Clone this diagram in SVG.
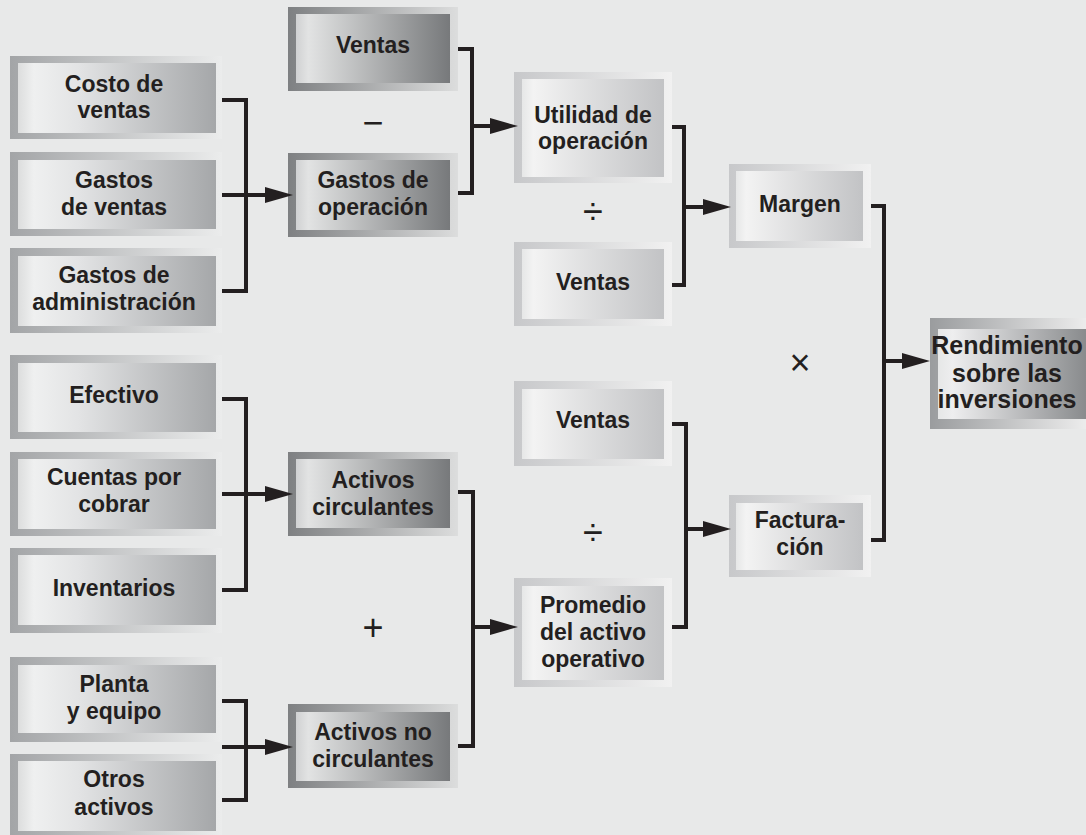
<svg xmlns="http://www.w3.org/2000/svg" width="1086" height="835" viewBox="0 0 1086 835">
<defs>
<linearGradient id="oA" x1="0" y1="0" x2="1" y2="0"><stop offset="0" stop-color="#a3a5a7"/><stop offset="1" stop-color="#ebecec"/></linearGradient>
<linearGradient id="iA" x1="0" y1="0" x2="1" y2="0"><stop offset="0" stop-color="#dcdddd"/><stop offset="0.08" stop-color="#eff0f0"/><stop offset="0.3" stop-color="#e3e4e5"/><stop offset="1" stop-color="#a5a7a9"/></linearGradient>
<linearGradient id="oB" x1="0" y1="0" x2="1" y2="0"><stop offset="0" stop-color="#c7c8ca"/><stop offset="1" stop-color="#f1f1f1"/></linearGradient>
<linearGradient id="iB" x1="0" y1="0" x2="1" y2="0"><stop offset="0" stop-color="#e6e7e7"/><stop offset="0.08" stop-color="#f3f3f3"/><stop offset="1" stop-color="#c2c3c5"/></linearGradient>
<linearGradient id="oD" x1="0" y1="0" x2="1" y2="0"><stop offset="0" stop-color="#7e8082"/><stop offset="1" stop-color="#dcdddd"/></linearGradient>
<linearGradient id="iD" x1="0" y1="0" x2="1" y2="0"><stop offset="0" stop-color="#d0d1d2"/><stop offset="0.08" stop-color="#e2e3e3"/><stop offset="1" stop-color="#77797b"/></linearGradient>
<linearGradient id="oR" x1="0" y1="0" x2="1" y2="0"><stop offset="0" stop-color="#9a9c9e"/><stop offset="1" stop-color="#ececec"/></linearGradient>
<linearGradient id="iR" x1="0" y1="0" x2="1" y2="0"><stop offset="0" stop-color="#e6e7e7"/><stop offset="0.1" stop-color="#eeeeef"/><stop offset="1" stop-color="#898b8d"/></linearGradient>
<marker id="ah" markerUnits="userSpaceOnUse" markerWidth="28" markerHeight="16" viewBox="0 0 28 16" refX="2" refY="8" orient="auto"><path d="M0,0 L28,8 L0,16 z" fill="#231f20"/></marker>
</defs>
<style>
.t{font-family:"Liberation Sans",Arial,sans-serif;font-weight:bold;font-size:23px;fill:#231f20;text-anchor:middle}
.tr{font-size:25px}
.op{font-family:"Liberation Sans",Arial,sans-serif;font-weight:normal;font-size:36px;fill:#231f20;text-anchor:middle}
.c{fill:none;stroke:#231f20;stroke-width:4;stroke-linejoin:miter;stroke-linecap:butt}
</style>
<rect width="1086" height="835" fill="#e8e9e9"/>

<g id="costo-ventas"><rect x="10" y="56" width="212" height="83" fill="url(#oA)"/><rect x="18" y="63" width="198" height="70" fill="url(#iA)"/><text class="t" x="114" y="92">Costo de</text><text class="t" x="114" y="118">ventas</text></g>
<g id="gastos-ventas"><rect x="10" y="152" width="212" height="84" fill="url(#oA)"/><rect x="18" y="160" width="198" height="69" fill="url(#iA)"/><text class="t" x="114" y="188">Gastos</text><text class="t" x="114" y="215">de ventas</text></g>
<g id="gastos-admin"><rect x="10" y="248" width="212" height="85" fill="url(#oA)"/><rect x="18" y="256" width="198" height="70" fill="url(#iA)"/><text class="t" x="114" y="283">Gastos de</text><text class="t" x="114" y="310">administración</text></g>
<g id="efectivo"><rect x="10" y="355" width="212" height="84" fill="url(#oA)"/><rect x="18" y="363" width="198" height="69" fill="url(#iA)"/><text class="t" x="114" y="403">Efectivo</text></g>
<g id="cuentas"><rect x="10" y="452" width="212" height="84" fill="url(#oA)"/><rect x="18" y="459" width="198" height="70" fill="url(#iA)"/><text class="t" x="114" y="485">Cuentas por</text><text class="t" x="114" y="512">cobrar</text></g>
<g id="inventarios"><rect x="10" y="548" width="212" height="85" fill="url(#oA)"/><rect x="18" y="555" width="198" height="70" fill="url(#iA)"/><text class="t" x="114" y="596">Inventarios</text></g>
<g id="planta"><rect x="10" y="657" width="212" height="85" fill="url(#oA)"/><rect x="18" y="665" width="198" height="68" fill="url(#iA)"/><text class="t" x="114" y="692">Planta</text><text class="t" x="114" y="719">y equipo</text></g>
<g id="otros"><rect x="10" y="754" width="212" height="84" fill="url(#oA)"/><rect x="18" y="761" width="198" height="70" fill="url(#iA)"/><text class="t" x="114" y="787">Otros</text><text class="t" x="114" y="815">activos</text></g>

<g id="ventas-1"><rect x="288" y="7" width="170" height="84" fill="url(#oD)"/><rect x="296" y="14" width="154" height="69" fill="url(#iD)"/><text class="t" x="373" y="53">Ventas</text></g>
<g id="gastos-op"><rect x="288" y="153" width="170" height="84" fill="url(#oD)"/><rect x="296" y="160" width="154" height="70" fill="url(#iD)"/><text class="t" x="373" y="188">Gastos de</text><text class="t" x="373" y="215">operación</text></g>
<g id="activos-circ"><rect x="288" y="452" width="170" height="84" fill="url(#oD)"/><rect x="296" y="459" width="154" height="69" fill="url(#iD)"/><text class="t" x="373" y="488">Activos</text><text class="t" x="373" y="515">circulantes</text></g>
<g id="activos-nocirc"><rect x="288" y="704" width="170" height="84" fill="url(#oD)"/><rect x="296" y="712" width="154" height="69" fill="url(#iD)"/><text class="t" x="373" y="740">Activos no</text><text class="t" x="373" y="767">circulantes</text></g>

<g id="utilidad"><rect x="514" y="72" width="158" height="111" fill="url(#oB)"/><rect x="522" y="79" width="142" height="98" fill="url(#iB)"/><text class="t" x="593" y="123">Utilidad de</text><text class="t" x="593" y="149">operación</text></g>
<g id="ventas-2"><rect x="514" y="242" width="158" height="84" fill="url(#oB)"/><rect x="522" y="249" width="142" height="70" fill="url(#iB)"/><text class="t" x="593" y="290">Ventas</text></g>
<g id="ventas-3"><rect x="514" y="381" width="158" height="85" fill="url(#oB)"/><rect x="522" y="389" width="142" height="70" fill="url(#iB)"/><text class="t" x="593" y="428">Ventas</text></g>
<g id="promedio"><rect x="514" y="578" width="158" height="109" fill="url(#oB)"/><rect x="522" y="586" width="142" height="94" fill="url(#iB)"/><text class="t" x="593" y="613">Promedio</text><text class="t" x="593" y="640">del activo</text><text class="t" x="593" y="667">operativo</text></g>

<g id="margen"><rect x="729" y="164" width="142" height="84" fill="url(#oB)"/><rect x="736" y="171" width="127" height="70" fill="url(#iB)"/><text class="t" x="800" y="212">Margen</text></g>
<g id="facturacion"><rect x="729" y="495" width="142" height="82" fill="url(#oB)"/><rect x="736" y="503" width="127" height="67" fill="url(#iB)"/><text class="t" x="800" y="528">Factura-</text><text class="t" x="800" y="555">ción</text></g>

<g id="rendimiento"><rect x="930" y="318" width="156" height="111" fill="url(#oR)"/><rect x="938" y="329" width="148" height="90" fill="url(#iR)"/><text class="t tr" x="1007" y="354">Rendimiento</text><text class="t tr" x="1007" y="382">sobre las</text><text class="t tr" x="1007" y="408">inversiones</text></g>

<g id="operators">
<text class="op" x="373" y="135">−</text>
<text class="op" x="593" y="224">÷</text>
<text class="op" x="593" y="545">÷</text>
<text class="op" x="373" y="640">+</text>
<text class="op" x="800" y="375">×</text>
</g>

<g id="connectors">
<path class="c" d="M222,100 H246 V291 H222"/>
<path class="c" d="M222,195 H267" marker-end="url(#ah)"/>
<path class="c" d="M222,399 H246 V590 H222"/>
<path class="c" d="M222,494 H267" marker-end="url(#ah)"/>
<path class="c" d="M222,701 H246 V800 H222"/>
<path class="c" d="M222,747 H267" marker-end="url(#ah)"/>
<path class="c" d="M458,49 H472 V193 H458"/>
<path class="c" d="M472,126 H492" marker-end="url(#ah)"/>
<path class="c" d="M458,492 H473 V746 H458"/>
<path class="c" d="M473,627 H492" marker-end="url(#ah)"/>
<path class="c" d="M672,127 H684 V285 H672"/>
<path class="c" d="M684,207 H705" marker-end="url(#ah)"/>
<path class="c" d="M672,424 H686 V627 H672"/>
<path class="c" d="M686,529 H705" marker-end="url(#ah)"/>
<path class="c" d="M871,206 H884 V540 H871"/>
<path class="c" d="M884,361 H904" marker-end="url(#ah)"/>
</g>
</svg>
